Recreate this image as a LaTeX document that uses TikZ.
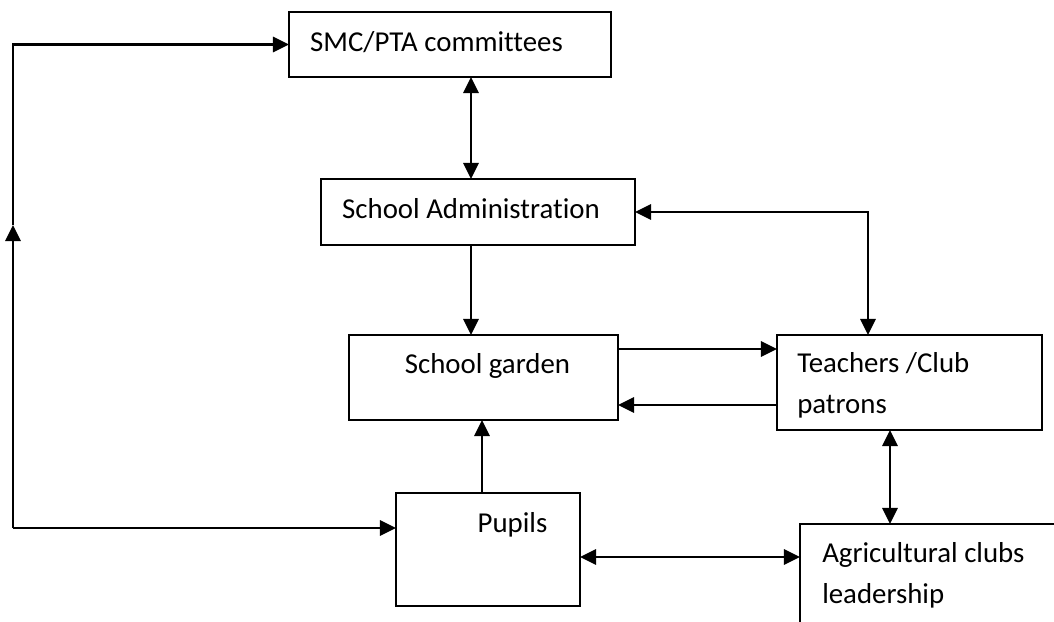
\documentclass[tikz,border=0pt]{standalone}
\usepackage{fontspec}
\setmainfont{Carlito}[Ligatures=NoCommon]
\usetikzlibrary{arrows.meta,positioning,calc}

\begin{document}
\begin{tikzpicture}[x=0.025cm,y=-0.025cm]
\tikzstyle{boxi}=[rectangle,draw=black,line width=1.1pt,inner sep=0pt,outer sep=0pt]
\tikzstyle{word}=[inner sep=0pt,font=\fontsize{20.5}{28.5}\selectfont,align=left]
\tikzstyle{link}=[line width=1.7pt,-{Triangle[length=0.4cm,width=0.38cm]}]
\tikzstyle{both}=[line width=1.7pt,{Triangle[length=0.4cm,width=0.38cm]}-{Triangle[length=0.4cm,width=0.38cm]}]
\useasboundingbox (0,0) rectangle (1054,621);
\clip (0,0) rectangle (1054,621);
\node [boxi,minimum width=8.05cm,minimum height=1.625cm] (smc) at (450,44.5) {};
\node [boxi,minimum width=7.85cm,minimum height=1.65cm] (admin) at (478,212) {};
\node [boxi,minimum width=6.725cm,minimum height=2.125cm] (garden) at (483.5,377.5) {};
\node [boxi,minimum width=6.625cm,minimum height=2.375cm] (teach) at (909.5,382.5) {};
\node [boxi,minimum width=4.6cm,minimum height=2.825cm] (pupils) at (488,549.5) {};
\node [boxi,minimum width=6.75cm,minimum height=2.9cm] (agri) at (935,582) {};
\node [word,anchor=base west] (smct) at ($(smc.west)+(21,6.5)$) {SMC/PTA committees};
\node [word,anchor=base west] (admint) at ($(admin.west)+(21,6)$) {School Administration};
\node [word,anchor=base] (gardent) at ($(garden.center)+(4,-4.5)$) {School garden};
\node [word,anchor=base] (pupilst) at ($(pupils.center)+(24.5,-17.5)$) {Pupils};
\node [word,anchor=base west] (teacht) at ($(teach.west)+(20,30.5)$) {Teachers /Club\\patrons};
\node [word,anchor=base west] (agrit) at ($(agri.west)+(22,21)$) {Agricultural clubs\\leadership};
\coordinate (lc) at (13,528);
\coordinate (lm) at (13,225);
\draw [link] (lc) -- (lc -| pupils.west);
\draw [link] (lc) -- (lm);
\draw [link] (lm) |- (smc.west);
\draw [both] ($(admin.north)+(-7,0)$) coordinate (an) -- (an |- smc.south);
\draw [link] ($(admin.south)+(-7,0)$) coordinate (as) -- (as |- garden.north);
\draw [both] (admin.east) -| ($(teach.north)+(-41.5,0)$);
\draw [link] ($(garden.east)+(0,-28.5)$) coordinate (g1) -- (g1 -| teach.west);
\draw [link] ($(teach.west)+(0,22.5)$) coordinate (t1) -- (t1 -| garden.east);
\draw [link] ($(pupils.north)+(-6,0)$) coordinate (p1) -- (p1 |- garden.south);
\draw [both] ($(teach.south)+(-19.5,0)$) coordinate (t2) -- (t2 |- agri.north);
\draw [both] ($(pupils.east)+(0,7.5)$) coordinate (p2) -- (p2 -| agri.west);
\end{tikzpicture}
\end{document}
